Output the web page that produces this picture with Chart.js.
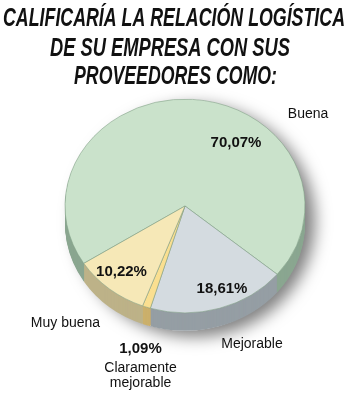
<!DOCTYPE html>
<html>
<head>
<meta charset="utf-8">
<script src="https://cdn.jsdelivr.net/npm/chart.js@4/dist/chart.umd.min.js"></script>
<style>
  html, body { margin: 0; padding: 0; background: #fff; }
</style>
</head>
<body>
<canvas id="chart" width="350" height="394"></canvas>
<script>
const categories = ['Buena', 'Mejorable', 'Claramente mejorable', 'Muy buena']
const shares = [70.07, 18.61, 1.09, 10.22]
const percentLabels = ['70,07%', '18,61%', '1,09%', '10,22%']
const titleLines = ['CALIFICARÍA LA RELACIÓN LOGÍSTICA', 'DE SU EMPRESA CON SUS', 'PROVEEDORES COMO:']

const topColors = ['#cae2cb', '#d4dbe0', '#fadf90', '#f6e8b7']
const sideColors = ['#8aa690', '#959ea4', '#cbb06b', '#bdb288']
const squash = 0.89   // vertical flattening of the pie
const depth = 18      // thickness of the pie side, px

// title lines: centre x, baseline, width (the font is squeezed to it)
const titleBox = [[174, 26, 342], [170, 56, 240], [175.5, 84, 203]]

// where the labels sit, in pie radii from the centre
const labelSpots = [
  { pct: [0.423, -0.527], name: [1.021, -0.763] },
  { pct: [0.307, 0.685], name: [0.556, 1.145] },
  { pct: [-0.369, 1.183], name: [-0.369, 1.344] },
  { pct: [-0.527, 0.544], name: [-0.992, 0.971] },
]

const pie3d = {
  id: 'pie3d',
  beforeDatasetsDraw(chart) {
    const ctx = chart.ctx
    const arcs = chart.getDatasetMeta(0).data
    const cx = arcs[0].x, cy = arcs[0].y, r = arcs[0].outerRadius

    // soft shadow under the pie
    ctx.save()
    ctx.shadowColor = 'rgba(0,0,0,0.5)'
    ctx.shadowBlur = 16
    ctx.shadowOffsetX = 10
    ctx.shadowOffsetY = 6
    ctx.fillStyle = '#fff'
    ctx.beginPath()
    ctx.ellipse(cx, cy + depth / 2, r, r * squash + depth / 2, 0, 0, Math.PI * 2)
    ctx.fill()
    ctx.restore()

    ctx.save()
    ctx.translate(cx, cy)
    ctx.scale(1, squash)
    ctx.translate(-cx, -cy)
    for (let d = depth; d > 0; d--) {
      arcs.forEach((arc, i) => {
        ctx.beginPath()
        ctx.moveTo(cx, cy + d / squash)
        ctx.arc(cx, cy + d / squash, r, arc.startAngle, arc.endAngle)
        ctx.closePath()
        ctx.fillStyle = sideColors[i]
        ctx.fill()
      })
    }
  },
  afterDatasetsDraw(chart) {
    chart.ctx.restore()
  },
  afterDraw(chart) {
    const ctx = chart.ctx
    const arc0 = chart.getDatasetMeta(0).data[0]
    const cx = arc0.x, cy = arc0.y, R = arc0.outerRadius + 0.5

    ctx.save()
    ctx.fillStyle = '#111'
    ctx.textAlign = 'center'
    ctx.textBaseline = 'alphabetic'
    ctx.font = 'italic bold 25px "Liberation Sans", Arial, sans-serif'
    titleLines.forEach((line, i) => {
      const [x, y, w] = titleBox[i]
      ctx.fillText(line, x, y, w)
    })

    ctx.textBaseline = 'middle'
    categories.forEach((cat, i) => {
      const spot = labelSpots[i]
      ctx.font = 'bold 15px "Liberation Sans", Arial, sans-serif'
      ctx.fillText(percentLabels[i], cx + spot.pct[0] * R, cy + spot.pct[1] * R)
      ctx.font = '14px "Liberation Sans", Arial, sans-serif'
      const lines = cat === 'Claramente mejorable' ? cat.split(' ') : [cat]
      lines.forEach((ln, k) => ctx.fillText(ln, cx + spot.name[0] * R, cy + spot.name[1] * R + k * 15))
    })
    ctx.restore()
  }
}

new Chart(document.getElementById('chart'), {
  type: 'pie',
  data: {
    labels: categories,
    datasets: [{
      data: shares,
      backgroundColor: topColors,
      borderColor: 'rgba(130,160,135,0.6)',
      borderWidth: 1,
      clip: false
    }]
  },
  options: {
    responsive: false,
    animation: false,
    rotation: -122.5,
    layout: { padding: { left: 64.5, right: 44.5, top: 85.5, bottom: 67.5 } },
    plugins: {
      legend: { display: false },
      tooltip: { enabled: false },
      title: { display: false }
    }
  },
  plugins: [pie3d]
})
</script>
</body>
</html>
